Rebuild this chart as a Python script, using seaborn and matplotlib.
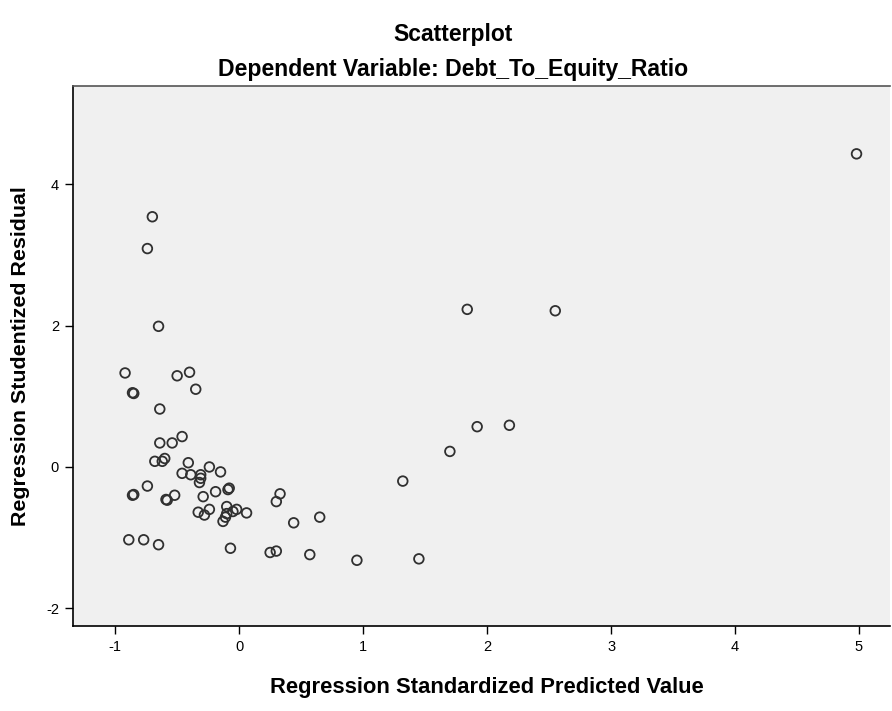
import matplotlib
matplotlib.use("Agg")
import matplotlib.pyplot as plt
import seaborn as sns
import pandas as pd

predicted = [4.98, -0.70, -0.74, -0.65, -0.92, -0.50, -0.40, -0.85, -0.86, -0.35,
             -0.64, -0.46, -0.64, -0.54, -0.60, -0.68, -0.62, -0.41, -0.24, -0.15,
             -0.46, -0.39, -0.31, -0.31, -0.32, -0.74, -0.08, -0.09, -0.19, -0.29,
             -0.52, -0.58, -0.59, -0.85, -0.86, -0.24, -0.33, -0.28, -0.10, -0.02,
             -0.05, -0.10, -0.11, -0.13, 0.06, 0.30, 0.33, 0.44, 0.65, -0.89,
             -0.77, -0.65, -0.07, 0.25, 0.30, 0.57, 0.95, 1.45, 1.32, 1.70,
             1.92, 2.18, 1.84, 2.55]
residual = [4.43, 3.54, 3.09, 1.99, 1.33, 1.29, 1.34, 1.04, 1.05, 1.10,
            0.82, 0.43, 0.34, 0.34, 0.12, 0.08, 0.08, 0.06, 0.00, -0.07,
            -0.09, -0.11, -0.11, -0.16, -0.22, -0.27, -0.30, -0.32, -0.35, -0.42,
            -0.40, -0.47, -0.46, -0.39, -0.40, -0.60, -0.64, -0.68, -0.56, -0.60,
            -0.63, -0.66, -0.71, -0.77, -0.65, -0.49, -0.38, -0.79, -0.71, -1.03,
            -1.03, -1.10, -1.15, -1.21, -1.19, -1.24, -1.32, -1.30, -0.20, 0.22,
            0.57, 0.59, 2.23, 2.21]

x_ticks = [-1, 0, 1, 2, 3, 4, 5]
y_ticks = [-2, 0, 2, 4]

df = pd.DataFrame({"pred": predicted, "resid": residual})

sns.set_theme(style="white")
plt.rcParams["font.family"] = ["Liberation Sans", "DejaVu Sans"]

fig = plt.figure(figsize=(8.92, 7.11), dpi=100)
fig.patch.set_facecolor("white")
ax = fig.add_axes([73/892, 1 - 626/711, (890-73)/892, (626-86)/711])
ax.set_facecolor("#F0F0F0")

sns.scatterplot(data=df, x="pred", y="resid", ax=ax, marker="o",
                s=48, facecolors="none", edgecolor="#303030", linewidth=1.3)

ax.set_xlim(-1.34, 5.25)
ax.set_ylim(-2.25, 5.39)
ax.set_xticks(x_ticks)
ax.set_yticks(y_ticks)
ax.set_xticklabels([str(t) for t in x_ticks])
ax.set_yticklabels([str(t) for t in y_ticks])
ax.tick_params(axis="both", direction="out", length=6, width=1, colors="black",
               labelsize=10.5, left=True, bottom=True, pad=4)
for side in ["left", "bottom", "top", "right"]:
    ax.spines[side].set_color("black")
    ax.spines[side].set_linewidth(1.2)
ax.spines["top"].set_color("#555555")
ax.spines["right"].set_visible(False)

ax.set_xlabel("")
ax.set_ylabel("")

fig.text(453/892, 1 - 41/711, "Scatterplot", ha="center", va="baseline",
         fontsize=16.5, fontweight="bold", color="black")
fig.text(453/892, 1 - 76/711, "Dependent Variable: Debt_To_Equity_Ratio",
         ha="center", va="baseline", fontsize=16.6, fontweight="bold", color="black")
fig.text(487/892, 1 - 688/711, "Regression Standardized Predicted Value",
         ha="center", va="center", fontsize=15.8, fontweight="bold", color="black")
fig.text(21/892, 1 - 356/711, "Regression Studentized Residual",
         ha="center", va="center", rotation=90, fontsize=15.4, fontweight="bold",
         color="black")

fig.savefig("out.png", dpi=100)
